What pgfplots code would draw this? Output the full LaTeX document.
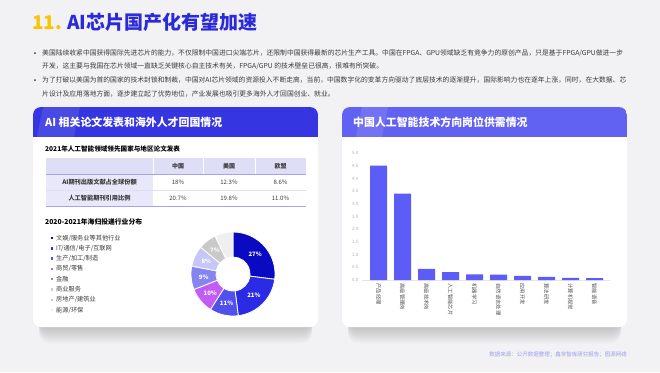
\documentclass[border=0pt]{standalone}
\usepackage{pgfplots}
\pgfplotsset{compat=1.18}
\usepackage{fontspec}
\setmainfont{Noto Sans CJK SC}
\definecolor{bg}{HTML}{F2F2F4}
\definecolor{gold}{HTML}{F7C600}
\definecolor{titleblue}{HTML}{2A2AD8}
\definecolor{txt}{HTML}{3A3A3A}
\definecolor{hdrL}{HTML}{3535E2}
\definecolor{hdrR}{HTML}{6262F2}
\definecolor{lav}{HTML}{DEDEF7}
\definecolor{lav2}{HTML}{E8E8FA}
\definecolor{lavline}{HTML}{A4A4E6}
\definecolor{barc}{HTML}{5C5CF6}
\definecolor{tickgray}{HTML}{B0B0B0}
\definecolor{labgray}{HTML}{505050}
\definecolor{axisgray}{HTML}{E4E4EE}
\definecolor{src}{HTML}{9C9CF0}
\definecolor{p1}{HTML}{0A0AC2}
\definecolor{p2}{HTML}{2B2BE6}
\definecolor{p3}{HTML}{5050EC}
\definecolor{p4}{HTML}{C35CF5}
\definecolor{p5}{HTML}{8585F2}
\definecolor{p6}{HTML}{C6C6F7}
\definecolor{p7}{HTML}{C9C9C9}
\definecolor{p8}{HTML}{EFEFEF}
\newcommand{\fs}[1]{\fontsize{#1}{#1}\selectfont}
\begin{document}
\begin{tikzpicture}[x=1pt,y=1pt]
\fill[bg] (0,0) rectangle (660,-372);
\clip (0,0) rectangle (660,-372);
% title
\node[anchor=west, inner sep=0, font=\fs{19}\bfseries] at (32,-22) {\textcolor{gold}{11.}\hspace{5pt}\textcolor{titleblue}{AI芯片国产化有望加速}};
% bullets
\foreach \yy in {53,80} \fill[txt] (35,-\yy) circle (1);
\begin{scope}[every node/.style={anchor=west, inner sep=0, font=\fs{6.8}, text=txt}]
\node at (42,-53) {美国陆续收紧中国获得国际先进芯片的能力，不仅限制中国进口尖端芯片，还限制中国获得最新的芯片生产工具。中国在FPGA、GPU领域缺乏有竞争力的原创产品，只是基于FPGA/GPU做进一步};
\node at (42,-66.5) {开发，这主要与我国在芯片领域一直缺乏关键核心自主技术有关，FPGA/GPU 的技术壁垒已很高，很难有所突破。};
\node at (42,-80) {为了打破以美国为首的国家的技术封锁和制裁，中国对AI芯片领域的资源投入不断走高，当前，中国数字化的变革方向驱动了底层技术的逐渐提升，国际影响力也在逐年上涨，同时，在大数据、芯};
\node at (42,-93.5) {片设计及应用落地方面，逐步建立起了优势地位，产业发展也吸引更多海外人才回国创业、就业。};
\end{scope}
% card shadows
\foreach \xa/\xb in {33/318,342/627}{
  \foreach \i in {1,...,8}{
    \fill[black, opacity=0.022, rounded corners=10] (\xa+6,-120) rectangle (\xb-6,-327-2*\i);
  }
  \fill[white, rounded corners=8] (\xa,-107) rectangle (\xb,-327);
}
% headers
\begin{scope}
\clip[rounded corners=8] (33,-107) rectangle (318,-327);
\fill[hdrL] (33,-107) rectangle (318,-137);
\fill[white, opacity=0.10] (43,-107) -- (80,-107) -- (74,-137) -- (37,-137) -- cycle;
\end{scope}
\begin{scope}
\clip[rounded corners=8] (342,-107) rectangle (627,-327);
\fill[hdrR] (342,-107) rectangle (627,-137);
\fill[white, opacity=0.10] (362,-107) -- (388,-107) -- (382,-137) -- (356,-137) -- cycle;
\end{scope}
\node[anchor=west, inner sep=0, font=\fs{10.9}\bfseries, text=white] at (45,-122) {AI 相关论文发表和海外人才回国情况};
\node[anchor=west, inner sep=0, font=\fs{10.9}\bfseries, text=white] at (353,-122) {中国人工智能技术方向岗位供需情况};
% table
\node[anchor=west, inner sep=0, font=\fs{6.6}\bfseries, text=black] at (45,-149) {2021年人工智能领域领先国家与地区论文发表};
\fill[lav] (46,-158) rectangle (306,-174);
\fill[lav2] (46,-174) rectangle (153,-206);
\foreach \xx in {153,203,255} \draw[white, line width=1pt] (\xx,-158) -- (\xx,-174);
\draw[white, line width=1pt] (153,-174) -- (153,-206);
\draw[lavline, line width=0.8pt] (46,-174) -- (306,-174);
\draw[lav, line width=0.6pt] (46,-190) -- (306,-190);
\draw[lavline, line width=0.8pt] (46,-206) -- (306,-206);
\begin{scope}[every node/.style={inner sep=0, font=\fs{6}, text=txt}]
\node[font=\fs{6}\bfseries] at (178,-166) {中国};
\node[font=\fs{6}\bfseries] at (229,-166) {美国};
\node[font=\fs{6}\bfseries] at (280.5,-166) {欧盟};
\node[font=\fs{6.2}\bfseries] at (99.5,-182) {AI期刊出版文献占全球份额};
\node[font=\fs{6.2}\bfseries] at (99.5,-198) {人工智能期刊引用比例};
\node at (178,-182) {18\%};
\node at (229,-182) {12.3\%};
\node at (280.5,-182) {8.6\%};
\node at (178,-198) {20.7\%};
\node at (229,-198) {19.8\%};
\node at (280.5,-198) {11.0\%};
\end{scope}
% pie title and legend
\node[anchor=west, inner sep=0, font=\fs{6.8}\bfseries, text=black] at (45,-222) {2020-2021年海归投递行业分布};
\foreach \c/\t [count=\k] in {p1/{文娱/服务业等其他行业}, p2/{IT/通信/电子/互联网}, p3/{生产/加工/制造}, p4/{商贸/零售}, p5/{金融}, p6/{商业服务}, p7/{房地产/建筑业}, p8/{能源/环保}}{
  \fill[\c] (50.8,{-238-10.3*(\k-1)-1.2}) rectangle ++(2.4,2.4);
  \node[anchor=west, inner sep=0, font=\fs{6.2}, text=txt] at (56,{-238-10.3*(\k-1)}) {\t};
}
% donut
\begin{axis}[at={(233pt,-274pt)}, anchor=center, x=1pt, y=1pt, xmin=-45, xmax=45, ymin=-45, ymax=45, hide axis, clip=false]
\pgfplotsextra{
  \gdef\curang{90}
  \foreach \v/\c/\l in {27/p1/27\%, 21/p2/21\%, 11/p3/11\%, 10/p4/10\%, 9/p5/9\%, 8/p6/8\%, 7/p7/7\%, 7/p8/{}}{
    \pgfmathsetmacro\s{\curang}
    \pgfmathsetmacro\e{\curang-3.6*\v}
    \pgfmathsetmacro\m{(\s+\e)/2}
    \path[fill=\c, draw=white, line width=0.8pt] (axis cs:{42*cos(\s)},{42*sin(\s)}) arc[start angle=\s, end angle=\e, radius=42pt] -- (axis cs:{17*cos(\e)},{17*sin(\e)}) arc[start angle=\e, end angle=\s, radius=17pt] -- cycle;
    \node[inner sep=0, font=\fs{6}\bfseries, text=white] at (axis cs:{29.5*cos(\m)},{29.5*sin(\m)}) {\l};
    \xdef\curang{\e}
  }
}
\end{axis}
% bar chart
\begin{axis}[at={(362pt,-280pt)}, anchor=south west,
  width=248pt, height=127pt, scale only axis,
  xmin=-0.6875, xmax=9.646, ymin=0, ymax=5,
  ytick={0,0.5,1,1.5,2,2.5,3,3.5,4,4.5,5},
  yticklabel style={/pgf/number format/fixed, /pgf/number format/fixed zerofill, /pgf/number format/precision=1},
  /pgf/number format/assume math mode=true,
  y tick label style={font=\fs{4.5}, text=tickgray},
  xtick=data,
  xticklabels={产品经理,高级管理岗,高级技术岗,人工智能芯片,机器学习,自然语言处理,应用开发,算法研发,计算机视觉,智能语音},
  x tick label style={font=\fs{5.3}, text=labgray, rotate=-90, anchor=west},
  axis x line*=bottom, axis y line*=left,
  x axis line style={draw=axisgray}, y axis line style={draw=none},
  major tick length=0pt, clip=false]
\addplot[ybar, bar width=17pt, fill=barc, draw=none] coordinates {(0,4.5)(1,3.4)(2,0.44)(3,0.31)(4,0.22)(5,0.21)(6,0.16)(7,0.12)(8,0.08)(9,0.07)};
\end{axis}
% source
\node[anchor=east, inner sep=0, font=\fs{5.5}, text=src] at (627,-355) {数据来源：公开数据整理；鑫世智库研究报告；图源网络};
\end{tikzpicture}
\end{document}
